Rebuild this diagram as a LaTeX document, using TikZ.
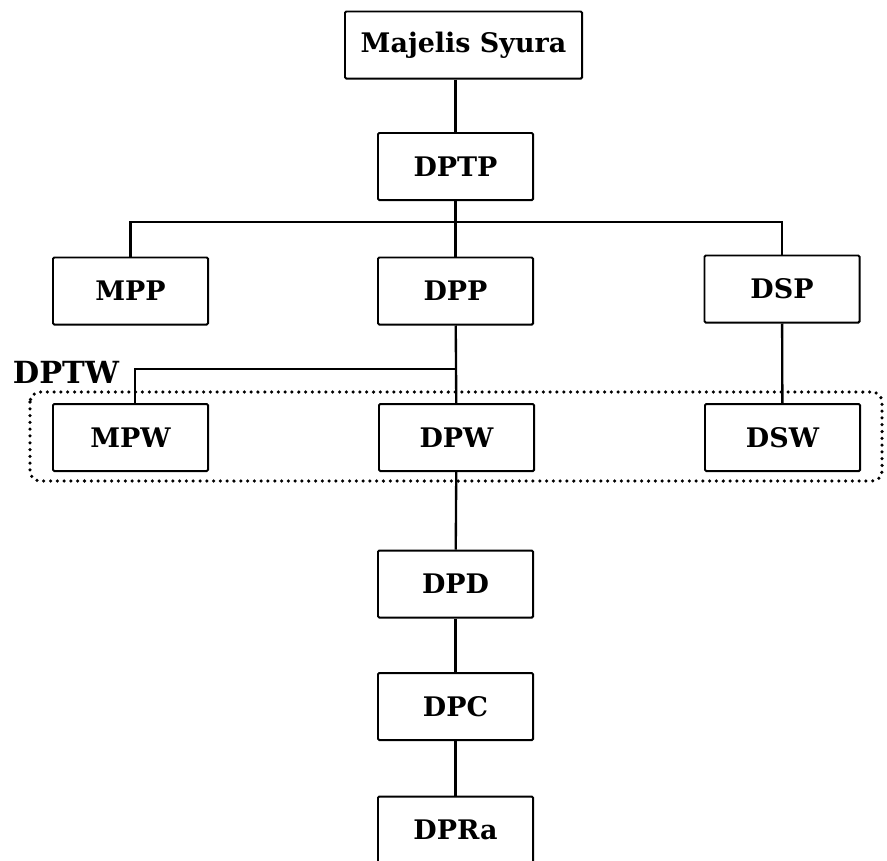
\documentclass[tikz,border=0pt]{standalone}
\usepackage{fontspec}
\setmainfont{DejaVu Serif}
\usetikzlibrary{calc}

\tikzset{
  unit/.style={draw, line width=1.7pt, rounded corners=1pt,
    minimum width=4.65cm, minimum height=2.01cm,
    font=\bfseries\fontsize{23}{27}\selectfont},
  link/.style={line width=2pt},
  region/.style={line width=3pt, line cap=round,
    dash pattern=on 0pt off 5.8pt, rounded corners=0.3cm}
}

\begin{document}
\begin{tikzpicture}[x=0.03cm, y=-0.03cm]
    \useasboundingbox (0,0) rectangle (887,861);
    % top levels
    \node[unit, minimum width=7.11cm] (ms) at (463.5,45) {Majelis Syura};
    \node[unit] (dptp) at (455.5,166.5) {DPTP};
    % central level
    \node[unit] (mpp) at (130.5,291) {MPP};
    \node[unit] (dpp) at (455.5,291) {DPP};
    \node[unit] (dsp) at (782,289) {DSP};
    % regional level
    \node[unit] (mpw) at (130.5,437.5) {MPW};
    \node[unit] (dpw) at (456.5,437.5) {DPW};
    \node[unit] (dsw) at (782.5,437.5) {DSW};
    \node[font=\bfseries\fontsize{26}{30}\selectfont] (dptw) at (66,372) {DPTW};
    % lower levels
    \node[unit] (dpd) at (455.5,584) {DPD};
    \node[unit] (dpc) at (455.5,706.5) {DPC};
    \node[unit] (dpra) at (455.5,830) {DPRa};
    \coordinate (bar) at (455.5,222);
    \coordinate (wbar) at (455.5,369);
    % connectors
    \draw[link] (ms.south -| dptp) -- (dptp.north);
    \draw[link] (dptp) -- (dpp);
    \draw[link] (mpp.north) |- (bar) -| (dsp.north);
    \draw[link] (dpp) -- (dpw);
    \draw[link] ([xshift=0.135cm]mpw.north) |- (wbar);
    \draw[link] (dsp) -- (dsw);
    \draw[link] (dpw) -- (dpd);
    \draw[link] (dpd) -- (dpc);
    \draw[link] (dpc) -- (dpra);
    % DPTW group
    \draw[region] (30,392) rectangle (882,481);
\end{tikzpicture}
\end{document}
